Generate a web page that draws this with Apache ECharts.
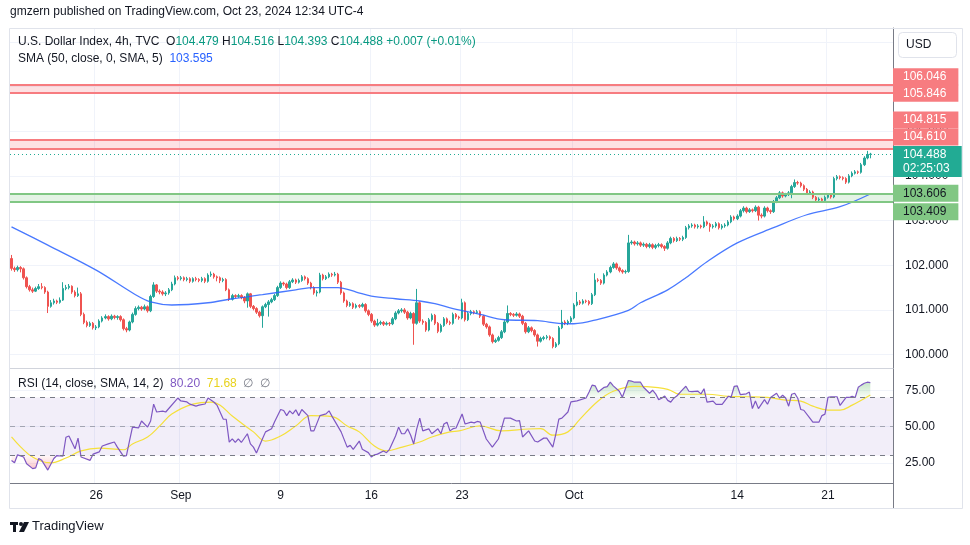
<!DOCTYPE html>
<html><head><meta charset="utf-8">
<script src="https://cdn.jsdelivr.net/npm/echarts@6/dist/echarts.min.js"></script>
<style>html,body{margin:0;padding:0;background:#fff;}#c{width:970px;height:545px;}</style>
</head><body><div id="c"></div>
<script>
// ---- DATA ----
// 4h candles, Aug 20 -> Oct 23 2024: [open, close, low, high]
const ohlc = [
[102.15,101.93,101.88,102.23],[101.93,101.90,101.85,101.97],[101.90,101.95,101.86,101.99],[101.95,101.92,101.84,101.98],[101.92,101.72,101.68,101.95],
[101.72,101.52,101.48,101.75],[101.52,101.45,101.41,101.56],[101.45,101.42,101.38,101.50],[101.42,101.48,101.40,101.52],[101.48,101.52,101.45,101.58],
[101.52,101.50,101.46,101.60],[101.50,101.40,101.36,101.53],[101.40,101.08,100.93,101.43],[101.08,101.16,101.05,101.22],[101.16,101.20,101.12,101.25],
[101.20,101.17,101.13,101.23],[101.17,101.22,101.14,101.28],[101.22,101.48,101.20,101.62],[101.48,101.50,101.44,101.56],[101.50,101.53,101.46,101.58],
[101.53,101.40,101.36,101.55],[101.40,101.32,101.28,101.44],[101.32,101.36,101.29,101.50],[101.36,100.90,100.86,101.40],[100.90,100.72,100.68,100.94],
[100.72,100.65,100.61,100.76],[100.65,100.70,100.62,100.74],[100.70,100.60,100.56,100.73],[100.60,100.62,100.55,100.66],[100.62,100.75,100.59,100.79],
[100.75,100.82,100.72,100.86],[100.82,100.85,100.79,100.90],[100.85,100.80,100.76,100.88],[100.80,100.86,100.77,100.90],[100.86,100.83,100.79,100.89],
[100.83,100.85,100.78,100.88],[100.85,100.78,100.74,100.88],[100.78,100.58,100.54,100.81],[100.58,100.55,100.50,100.62],[100.55,100.73,100.52,100.76],
[100.73,100.90,100.70,100.94],[100.90,101.03,100.87,101.08],[101.03,101.06,100.99,101.10],[101.06,101.02,100.98,101.09],[101.02,101.07,100.99,101.12],
[101.07,100.98,100.94,101.10],[100.98,101.30,100.95,101.34],[101.30,101.56,101.27,101.62],[101.56,101.42,101.38,101.58],[101.42,101.40,101.35,101.46],
[101.40,101.36,101.32,101.44],[101.36,101.38,101.31,101.42],[101.38,101.45,101.34,101.49],[101.45,101.58,101.42,101.63],[101.58,101.72,101.55,101.77],
[101.72,101.70,101.66,101.76],[101.70,101.72,101.66,101.76],[101.72,101.68,101.64,101.75],[101.68,101.70,101.64,101.74],[101.70,101.64,101.60,101.73],
[101.64,101.70,101.61,101.73],[101.70,101.68,101.64,101.74],[101.68,101.66,101.62,101.71],[101.66,101.70,101.62,101.74],[101.70,101.64,101.60,101.73],
[101.64,101.78,101.61,101.82],[101.78,101.80,101.74,101.86],[101.80,101.74,101.70,101.83],[101.74,101.72,101.64,101.77],[101.72,101.66,101.60,101.75],
[101.66,101.68,101.62,101.72],[101.68,101.45,101.42,101.71],[101.45,101.24,101.20,101.48],[101.24,101.32,101.21,101.36],[101.32,101.30,101.26,101.35],
[101.30,101.32,101.27,101.36],[101.32,101.28,101.24,101.35],[101.28,101.20,101.15,101.31],[101.20,101.36,101.05,101.39],[101.36,101.08,101.04,101.38],
[101.08,101.03,100.99,101.11],[101.03,100.95,100.91,101.06],[100.95,100.87,100.83,100.98],[100.87,101.07,100.60,101.10],[101.07,101.12,101.04,101.16],
[101.12,101.18,100.85,101.22],[101.18,101.23,101.15,101.27],[101.23,101.32,101.20,101.36],[101.32,101.50,101.29,101.54],[101.50,101.60,101.47,101.64],
[101.60,101.58,101.54,101.63],[101.58,101.50,101.46,101.61],[101.50,101.63,101.47,101.67],[101.63,101.67,101.60,101.71],[101.67,101.62,101.58,101.70],
[101.62,101.66,101.59,101.70],[101.66,101.74,101.63,101.78],[101.74,101.70,101.66,101.77],[101.70,101.60,101.56,101.73],[101.60,101.50,101.46,101.63],
[101.50,101.38,101.34,101.53],[101.38,101.40,101.30,101.44],[101.40,101.78,101.37,101.83],[101.78,101.70,101.66,101.81],[101.70,101.74,101.67,101.78],
[101.74,101.80,101.71,101.84],[101.80,101.78,101.74,101.83],[101.78,101.80,101.75,101.85],[101.80,101.62,101.58,101.83],[101.62,101.38,101.34,101.65],
[101.38,101.20,101.16,101.41],[101.20,101.10,101.06,101.23],[101.10,101.14,101.07,101.18],[101.14,101.06,101.02,101.17],[101.06,101.10,101.03,101.14],
[101.10,101.08,101.04,101.13],[101.08,101.12,101.05,101.16],[101.12,100.98,100.94,101.15],[100.98,100.90,100.86,101.01],[100.90,100.75,100.71,100.93],
[100.75,100.66,100.62,100.78],[100.66,100.70,100.63,100.80],[100.70,100.72,100.66,100.76],[100.72,100.68,100.64,100.75],[100.68,100.70,100.65,100.74],
[100.70,100.69,100.64,100.73],[100.69,100.80,100.66,100.84],[100.80,100.93,100.77,100.97],[100.93,100.98,100.90,101.02],[100.98,101.00,100.94,101.04],
[101.00,100.95,100.91,101.04],[100.95,100.82,100.78,100.98],[100.82,100.92,100.79,100.96],[100.92,100.70,100.22,100.95],[100.70,101.16,100.67,101.47],
[101.16,100.75,100.71,101.19],[100.75,100.72,100.67,100.79],[100.72,100.55,100.51,100.75],[100.55,100.78,100.52,100.82],[100.78,100.88,100.74,100.92],
[100.88,100.70,100.66,100.91],[100.70,100.52,100.48,100.73],[100.52,100.65,100.49,100.69],[100.65,100.80,100.62,100.84],[100.80,100.72,100.68,100.83],
[100.72,100.70,100.66,100.76],[100.70,100.90,100.67,100.94],[100.90,100.84,100.80,100.93],[100.84,100.82,100.78,100.87],[100.82,101.16,100.79,101.25],
[101.16,100.78,100.74,101.19],[100.78,100.92,100.75,100.96],[100.92,100.96,100.88,101.00],[100.96,100.94,100.90,100.99],[100.94,100.96,100.91,101.00],
[100.96,100.86,100.82,100.99],[100.86,100.68,100.64,100.89],[100.68,100.62,100.58,100.71],[100.62,100.44,100.40,100.65],[100.44,100.29,100.25,100.47],
[100.29,100.32,100.26,100.36],[100.32,100.38,100.29,100.42],[100.38,100.51,100.35,100.55],[100.51,100.73,100.48,100.77],[100.73,100.92,100.70,101.10],
[100.92,100.90,100.86,100.95],[100.90,100.88,100.84,100.93],[100.88,100.91,100.85,100.95],[100.91,100.86,100.82,100.94],[100.86,100.70,100.66,100.89],
[100.70,100.51,100.47,100.73],[100.51,100.60,100.48,100.64],[100.60,100.54,100.50,100.63],[100.54,100.44,100.40,100.57],[100.44,100.30,100.18,100.47],
[100.30,100.36,100.27,100.40],[100.36,100.38,100.32,100.42],[100.38,100.40,100.34,100.44],[100.40,100.36,100.32,100.43],[100.36,100.18,100.14,100.39],
[100.18,100.24,100.15,100.28],[100.24,100.60,100.21,100.64],[100.60,100.73,100.57,101.00],[100.73,100.70,100.66,100.77],[100.70,100.74,100.66,100.78],
[100.74,100.82,100.71,100.86],[100.82,101.11,100.79,101.15],[101.11,101.18,101.08,101.40],[101.18,101.15,101.11,101.22],[101.15,101.20,101.12,101.24],
[101.20,101.19,101.15,101.23],[101.19,101.14,101.10,101.22],[101.14,101.34,101.11,101.38],[101.34,101.67,101.31,101.82],[101.67,101.66,101.62,101.71],
[101.66,101.60,101.56,101.69],[101.60,101.78,101.57,101.82],[101.78,101.85,101.75,101.89],[101.85,101.95,101.82,101.99],[101.95,102.03,101.92,102.07],
[102.03,101.94,101.90,102.06],[101.94,101.88,101.84,101.97],[101.88,101.85,101.81,101.91],[101.85,101.86,101.81,101.90],[101.86,102.50,101.83,102.68],
[102.50,102.52,102.46,102.56],[102.52,102.48,102.44,102.55],[102.48,102.50,102.44,102.54],[102.50,102.45,102.41,102.53],[102.45,102.47,102.41,102.51],
[102.47,102.42,102.38,102.50],[102.42,102.46,102.38,102.50],[102.46,102.40,102.36,102.49],[102.40,102.44,102.36,102.48],[102.44,102.46,102.40,102.50],
[102.46,102.42,102.38,102.49],[102.42,102.38,102.32,102.45],[102.38,102.50,102.35,102.54],[102.50,102.60,102.47,102.64],[102.60,102.55,102.51,102.63],
[102.55,102.60,102.52,102.64],[102.60,102.58,102.54,102.63],[102.58,102.62,102.54,102.66],[102.62,102.84,102.59,102.88],[102.84,102.88,102.80,102.92],
[102.88,102.90,102.84,102.94],[102.90,102.86,102.82,102.93],[102.86,102.88,102.82,102.92],[102.88,102.86,102.82,102.91],[102.86,102.97,102.83,103.10],
[102.97,102.92,102.88,103.00],[102.92,102.86,102.75,102.95],[102.86,102.88,102.82,102.92],[102.88,102.93,102.84,102.97],[102.93,102.84,102.80,102.96],
[102.84,102.88,102.80,102.92],[102.88,102.90,102.84,102.94],[102.90,102.97,102.87,103.01],[102.97,103.08,102.94,103.12],[103.08,103.04,103.00,103.11],
[103.04,103.10,103.01,103.14],[103.10,103.22,103.07,103.26],[103.22,103.28,103.18,103.32],[103.28,103.20,103.16,103.31],[103.20,103.24,103.17,103.28],
[103.24,103.22,103.18,103.27],[103.22,103.30,103.19,103.34],[103.30,103.12,103.00,103.33],[103.12,103.10,103.05,103.16],[103.10,103.28,103.07,103.32],
[103.28,103.22,103.18,103.31],[103.22,103.20,103.15,103.25],[103.20,103.42,103.17,103.46],[103.42,103.51,103.39,103.55],[103.51,103.62,103.48,103.66],
[103.62,103.55,103.51,103.65],[103.55,103.58,103.52,103.62],[103.58,103.62,103.55,103.66],[103.62,103.76,103.50,103.80],[103.76,103.85,103.73,103.92],
[103.85,103.84,103.80,103.89],[103.84,103.78,103.74,103.87],[103.78,103.70,103.66,103.81],[103.70,103.62,103.58,103.73],[103.62,103.64,103.58,103.68],
[103.64,103.52,103.48,103.67],[103.52,103.46,103.42,103.55],[103.46,103.48,103.42,103.52],[103.48,103.45,103.40,103.51],[103.45,103.52,103.42,103.56],
[103.52,103.57,103.49,103.61],[103.57,103.53,103.49,103.60],[103.53,103.94,103.50,103.98],[103.94,103.98,103.90,104.02],[103.98,103.96,103.92,104.01],
[103.96,103.94,103.90,103.99],[103.94,103.86,103.82,103.97],[103.86,104.00,103.83,104.04],[104.00,104.06,103.97,104.10],[104.06,104.09,104.03,104.13],
[104.09,104.08,104.04,104.12],[104.08,104.25,104.05,104.29],[104.25,104.40,104.22,104.44],[104.40,104.48,104.37,104.56],[104.479,104.488,104.393,104.516]
];
// SMA(50) read at candle indices: [candleIndex, value]
const smaPoints = [[0,102.86],[12,102.45],[28,101.89],[41,101.34],[46,101.18],[53,101.11],[65,101.16],[73,101.25],[83,101.34],[94,101.45],[100,101.50],[108,101.50],[114,101.40],[119,101.31],[127,101.25],[135,101.20],[140,101.14],[146,101.03],[155,100.90],[163,100.78],[174,100.76],[181,100.70],[186,100.69],[194,100.79],[204,100.99],[208,101.16],[217,101.45],[223,101.72],[230,102.08],[240,102.50],[252,102.84],[263,103.13],[274,103.31],[284,103.595]];
// RSI(14) read at candle indices
const rsiPoints = [[0,26.6],[1,25],[2,30.5],[4,29],[5,24.3],[7,21],[8,21.5],[9,28],[10,26.7],[12,20],[14,28],[15,30],[17,29.5],[18,42.6],[19,43.5],[21,34.7],[22,42],[23,29],[26,26.7],[27,31],[29,32.5],[30,36.6],[32,38],[34,39.3],[35,35.8],[37,29.6],[38,30],[39,40],[40,49.6],[42,49],[43,53.8],[45,49.6],[46,53.8],[47,65.4],[48,60],[50,60.6],[51,60],[55,69.6],[56,67.6],[58,66.9],[59,65.4],[61,64],[62,64.7],[64,65.5],[65,69.6],[67,66.7],[68,64.5],[70,55.1],[71,55],[72,39.3],[73,41.5],[74,39],[75,41.5],[76,39],[78,45],[79,38],[80,35.8],[81,31.7],[83,41.5],[84,46.3],[86,48.4],[87,53.3],[89,61.7],[90,61],[91,57.5],[92,60.8],[93,58.7],[94,61.5],[95,57.5],[96,61.7],[98,57.5],[99,47],[100,47],[102,57.5],[104,58.7],[105,60.8],[106,57],[109,46.3],[111,35.8],[112,37],[113,34.3],[115,40],[116,34.3],[118,32],[119,29],[120,30.5],[121,31],[123,33.2],[124,32],[125,34.3],[127,43.5],[128,49.6],[129,45],[130,45],[131,48.4],[132,44],[133,38],[134,48.4],[135,55.8],[136,47],[138,48.4],[139,45],[141,48.4],[142,45],[143,51.7],[144,53],[145,47],[146,48.5],[147,49],[149,58.6],[150,51.7],[152,53],[153,52.5],[154,53.5],[155,53],[157,41.4],[159,35.8],[161,41.4],[162,48.3],[163,55.8],[165,55.8],[167,53.8],[168,54],[169,42.8],[171,47],[173,40],[174,39.3],[176,42],[177,42],[179,35.8],[180,44.8],[181,55.1],[182,55.8],[184,60],[185,67],[187,67.7],[190,69.6],[191,73.7],[192,78.5],[193,78],[194,73.7],[196,77],[197,77.5],[198,80.5],[199,78],[201,74.3],[202,70.1],[204,81.7],[205,81.3],[206,80.5],[208,80.5],[209,77],[211,72.9],[212,75],[213,72.5],[214,68.5],[215,69.5],[216,71],[217,68],[218,66.8],[219,69.5],[220,71],[222,75.6],[223,77.7],[224,74.3],[225,74],[227,74.3],[228,72.5],[229,76],[230,66.8],[232,67.5],[233,65.3],[235,65.3],[237,70.8],[238,70.5],[239,77.7],[240,78],[241,72],[243,72.5],[244,73.7],[245,62.3],[246,67.5],[247,62.3],[249,68.5],[250,65.3],[251,70],[253,72.9],[254,69.5],[255,71.5],[256,69.6],[257,64],[258,72.2],[259,72.9],[260,69.5],[261,61.7],[262,61.2],[264,55.8],[265,53],[267,53],[268,57.5],[269,58.5],[270,70.1],[271,70.5],[273,70.5],[274,64.5],[276,70],[277,70],[278,70.8],[279,70],[280,77],[281,78.5],[282,79.8],[283,80.5],[284,80.2]];
// RSI-based SMA(14)
const rsiSmaPoints = [[0,42.8],[3,36],[7,29],[13,25],[18,28.3],[23,33.2],[29,35.1],[37,34],[40,38],[45,42.8],[49,50.4],[53,58.6],[60,65.4],[66,66.8],[69,64.7],[73,57.2],[80,46.3],[84,40],[89,43.5],[94,50.4],[99,57.5],[106,56.8],[111,50.4],[115,46.3],[120,36.6],[124,33.2],[128,35.1],[135,39.3],[139,42.8],[145,46.3],[148,47],[155,50.4],[162,47],[171,48.3],[175,48.5],[179,44],[184,46.3],[188,55.1],[194,67.6],[199,74.3],[206,77.7],[210,77.5],[217,75.6],[221,72.2],[230,72.2],[237,70.8],[243,70.5],[250,70],[256,68.2],[261,67.5],[265,64],[270,61.3],[274,61.3],[278,64.7],[284,71.68]];
// horizontal zones
const resistHigh = [106.046, 105.846];
const resistLow = [104.815, 104.610];
const supportZone = [103.606, 103.409];
const lastPrice = 104.488;
const barCountdown = '02:25:03';
const priceChange = '+0.007 (+0.01%)';
// axis ticks
const priceTicks = [100, 101, 102, 103, 104, 105, 106, 107];
const rsiTicks = [25, 50, 75];
const rsiLevels = [70, 50, 30];
const dateTickIndex = [28, 56, 89, 119, 149, 186, 240, 270];
const dateTickText = ['26', 'Sep', '9', '16', '23', 'Oct', '14', '21'];
const emptySlots = 7; // right-hand margin in candle slots

// ---- CHART ----
const cats = [];
for (let i = 0; i < ohlc.length + emptySlots; i++) cats.push(String(i));
const isTick = (i) => dateTickIndex.indexOf(i) >= 0;
const FONT = '"Liberation Sans", Arial, sans-serif';
const UP = '#26a69a', DOWN = '#ef5350', RED = '#f77c80', GREEN = '#81c784', TEAL = '#22ab94';
const GRID_LINE = '#f0f3fa';
const last = ohlc[ohlc.length - 1];
const f3 = v => v.toFixed(3);
const OB = rsiLevels[0], OS = rsiLevels[2];
// fill helpers (stacked areas between the RSI line and the 70 / 30 levels)
const obBase = rsiPoints.map(p => [p[0], OB]);
const obDiff = rsiPoints.map(p => [p[0], Math.max(0, p[1] - OB)]);
const osBase = rsiPoints.map(p => [p[0], Math.min(p[1], OS)]);
const osDiff = rsiPoints.map(p => [p[0], OS - Math.min(p[1], OS)]);

function boxLabel(text, bg, color, offY) {
  return { show: true, position: 'end', distance: 0, formatter: text, color: color,
    fontFamily: FONT, fontSize: 12, lineHeight: 15, backgroundColor: bg,
    padding: [1, 12, 1, 10], offset: [0, offY] };
}
function zoneLine(v, color, text, labelBg, labelColor, offY) {
  return { yAxis: v, lineStyle: { color: color, width: 2, type: 'solid' }, label: boxLabel(text, labelBg, labelColor, offY) };
}
const grad = (c1, c2) => ({ type: 'linear', x: 0, y: 0, x2: 0, y2: 1, colorStops: [{ offset: 0, color: c1 }, { offset: 1, color: c2 }] });
const helper = { type: 'line', xAxisIndex: 1, yAxisIndex: 1, showSymbol: false, silent: true, lineStyle: { width: 0, opacity: 0 }, z: 1 };

const chart = echarts.init(document.getElementById('c'), null, { renderer: 'canvas' });
chart.setOption({
  animation: false,
  backgroundColor: '#ffffff',
  textStyle: { fontFamily: FONT },
  grid: [
    { left: 10, top: 28, width: 883, height: 340 },
    { left: 10, top: 369, width: 883, height: 114 }
  ],
  xAxis: [
    { type: 'category', gridIndex: 0, data: cats, boundaryGap: true,
      axisLine: { show: false }, axisTick: { show: false }, axisLabel: { show: false },
      splitLine: { show: true, interval: (i) => isTick(i), lineStyle: { color: GRID_LINE, width: 1 } } },
    { type: 'category', gridIndex: 1, data: cats, boundaryGap: true,
      axisLine: { show: true, lineStyle: { color: '#787b86', width: 1 } }, axisTick: { show: false },
      axisLabel: { show: true, interval: (i) => isTick(i), formatter: (v, i) => dateTickText[dateTickIndex.indexOf(Number(v))] || '',
        color: '#131722', fontSize: 12, margin: 7, fontFamily: FONT },
      splitLine: { show: true, interval: (i) => isTick(i), lineStyle: { color: GRID_LINE, width: 1 } } }
  ],
  yAxis: [
    { type: 'value', gridIndex: 0, position: 'right', min: 99.70, max: 107.31,
      axisLine: { show: true, lineStyle: { color: '#787b86' } },
      axisTick: { show: false, customValues: priceTicks },
      axisLabel: { customValues: priceTicks, formatter: v => v.toFixed(3), color: '#131722', fontSize: 12, margin: 12, fontFamily: FONT },
      splitLine: { show: true, lineStyle: { color: GRID_LINE } } },
    { type: 'value', gridIndex: 1, position: 'right', min: 11.1, max: 89.6,
      axisLine: { show: true, lineStyle: { color: '#787b86' } },
      axisTick: { show: false, customValues: rsiTicks },
      axisLabel: { customValues: rsiTicks, formatter: v => v.toFixed(2), color: '#131722', fontSize: 12, margin: 12, fontFamily: FONT },
      splitLine: { show: true, lineStyle: { color: GRID_LINE } } }
  ],
  series: [
    { type: 'candlestick', xAxisIndex: 0, yAxisIndex: 0, data: ohlc, barWidth: 2,
      itemStyle: { color: UP, color0: DOWN, borderColor: UP, borderColor0: DOWN, borderWidth: 1 },
      markArea: { silent: true, data: [
        [{ yAxis: resistHigh[0], itemStyle: { color: 'rgba(242,54,69,0.15)' } }, { yAxis: resistHigh[1] }],
        [{ yAxis: resistLow[0], itemStyle: { color: 'rgba(242,54,69,0.15)' } }, { yAxis: resistLow[1] }],
        [{ yAxis: supportZone[0], itemStyle: { color: 'rgba(76,175,80,0.15)' } }, { yAxis: supportZone[1] }]
      ] },
      markLine: { silent: true, symbol: 'none', animation: false, data: [
        zoneLine(resistHigh[0], RED, f3(resistHigh[0]), RED, '#fff', -7.5),
        zoneLine(resistHigh[1], RED, f3(resistHigh[1]), RED, '#fff', 0),
        zoneLine(resistLow[0], RED, f3(resistLow[0]), RED, '#fff', -19.6),
        zoneLine(resistLow[1], RED, f3(resistLow[1]), RED, '#fff', -11.7),
        zoneLine(supportZone[0], GREEN, f3(supportZone[0]), GREEN, '#131722', 0),
        zoneLine(supportZone[1], GREEN, f3(supportZone[1]), GREEN, '#131722', 9.6),
        { yAxis: lastPrice, lineStyle: { color: TEAL, width: 1, type: [1, 3] },
          label: { show: true, position: 'end', distance: 0, formatter: f3(lastPrice) + '\n' + barCountdown,
            color: '#fff', fontFamily: FONT, fontSize: 12, lineHeight: 14, backgroundColor: TEAL,
            padding: [2, 12, 1, 10], offset: [0, 7.5] } }
      ] } },
    { type: 'line', xAxisIndex: 0, yAxisIndex: 0, data: smaPoints, smooth: 0.35, showSymbol: false,
      lineStyle: { color: '#2962ff', width: 1.3, opacity: 0.85 }, z: 3 },
    Object.assign({}, helper, { data: obBase, stack: 'ob' }),
    Object.assign({}, helper, { data: obDiff, stack: 'ob', areaStyle: { color: grad('rgba(76,175,80,0.35)', 'rgba(76,175,80,0.04)'), opacity: 1 } }),
    Object.assign({}, helper, { data: osBase, stack: 'os' }),
    Object.assign({}, helper, { data: osDiff, stack: 'os', areaStyle: { color: grad('rgba(242,54,69,0.04)', 'rgba(242,54,69,0.3)'), opacity: 1 } }),
    { type: 'line', xAxisIndex: 1, yAxisIndex: 1, data: rsiSmaPoints, smooth: 0.4, showSymbol: false,
      lineStyle: { color: '#f5e03a', width: 1.2 }, z: 3 },
    { type: 'line', xAxisIndex: 1, yAxisIndex: 1, data: rsiPoints, showSymbol: false,
      lineStyle: { color: '#7e57c2', width: 1.2 }, z: 4,
      markArea: { silent: true, data: [[{ yAxis: OB, itemStyle: { color: 'rgba(126,87,194,0.1)' } }, { yAxis: OS }]] },
      markLine: { silent: true, symbol: 'none', label: { show: false }, data: rsiLevels.map(v => ({ yAxis: v,
        lineStyle: { color: '#787b86', width: 1, type: [5, 5], opacity: v === 50 ? 0.6 : 1 } })) } }
  ],
  graphic: [
    { type: 'text', left: 10, top: 6, style: { text: 'gmzern published on TradingView.com, Oct 23, 2024 12:34 UTC-4', fill: '#131722', font: '12px ' + FONT } },
    { type: 'rect', shape: { x: 9.5, y: 28.5, width: 953, height: 480 }, style: { fill: 'none', stroke: '#e0e3eb', lineWidth: 1 }, z: 10 },
    { type: 'line', shape: { x1: 893.5, y1: 483, x2: 893.5, y2: 508 }, style: { stroke: '#787b86', lineWidth: 1 }, z: 10 },
    { type: 'line', shape: { x1: 10, y1: 368.5, x2: 893, y2: 368.5 }, style: { stroke: '#d1d4dc', lineWidth: 1 }, z: 10 },
    { type: 'text', left: 18, top: 36, z: 10, style: {
        text: '{n|U.S. Dollar Index, 4h, TVC}  {k|O}{v|' + f3(last[0]) + '} {k|H}{v|' + f3(last[3]) + '} {k|L}{v|' + f3(last[2]) + '} {k|C}{v|' + f3(last[1]) + '} {v|' + priceChange + '}',
        rich: { n: { fill: '#131722', font: '12px ' + FONT }, k: { fill: '#131722', font: '12px ' + FONT }, v: { fill: '#089981', font: '12px ' + FONT } } } },
    { type: 'text', left: 18, top: 53, z: 10, style: {
        text: '{n|SMA (50, close, 0, SMA, 5)}  {b|' + smaPoints[smaPoints.length - 1][1].toFixed(3) + '}',
        rich: { n: { fill: '#131722', font: '12px ' + FONT }, b: { fill: '#2962ff', font: '12px ' + FONT } } } },
    { type: 'text', left: 18, top: 378, z: 10, style: {
        text: '{n|RSI (14, close, SMA, 14, 2)}  {p|' + rsiPoints[rsiPoints.length - 1][1].toFixed(2) + '}  {y|' + rsiSmaPoints[rsiSmaPoints.length - 1][1].toFixed(2) + '}  {g|∅}  {g|∅}',
        rich: { n: { fill: '#131722', font: '12px ' + FONT }, p: { fill: '#7e57c2', font: '12px ' + FONT }, y: { fill: '#e8d21d', font: '12px ' + FONT }, g: { fill: '#787b86', font: '12px ' + FONT } } } },
    { type: 'rect', z: 20, shape: { x: 898.5, y: 32.5, width: 58, height: 25, r: 4 }, style: { fill: '#fff', stroke: '#e0e3eb', lineWidth: 1 } },
    { type: 'text', z: 21, left: 906, top: 39, style: { text: 'USD', fill: '#131722', font: '12px ' + FONT } },
    { type: 'group', left: 10, top: 520, children: [
      { type: 'rect', shape: { x: 0, y: 2, width: 8, height: 3 }, style: { fill: '#131722' } },
      { type: 'rect', shape: { x: 3, y: 2, width: 3, height: 10 }, style: { fill: '#131722' } },
      { type: 'circle', shape: { cx: 11, cy: 4, r: 2 }, style: { fill: '#131722' } },
      { type: 'polygon', shape: { points: [[14, 2], [19, 2], [14, 12], [9, 12]] }, style: { fill: '#131722' } },
      { type: 'text', left: 22, top: 0, style: { text: 'TradingView', fill: '#131722', font: '13px ' + FONT } }
    ] }
  ]
});
</script></body></html>
